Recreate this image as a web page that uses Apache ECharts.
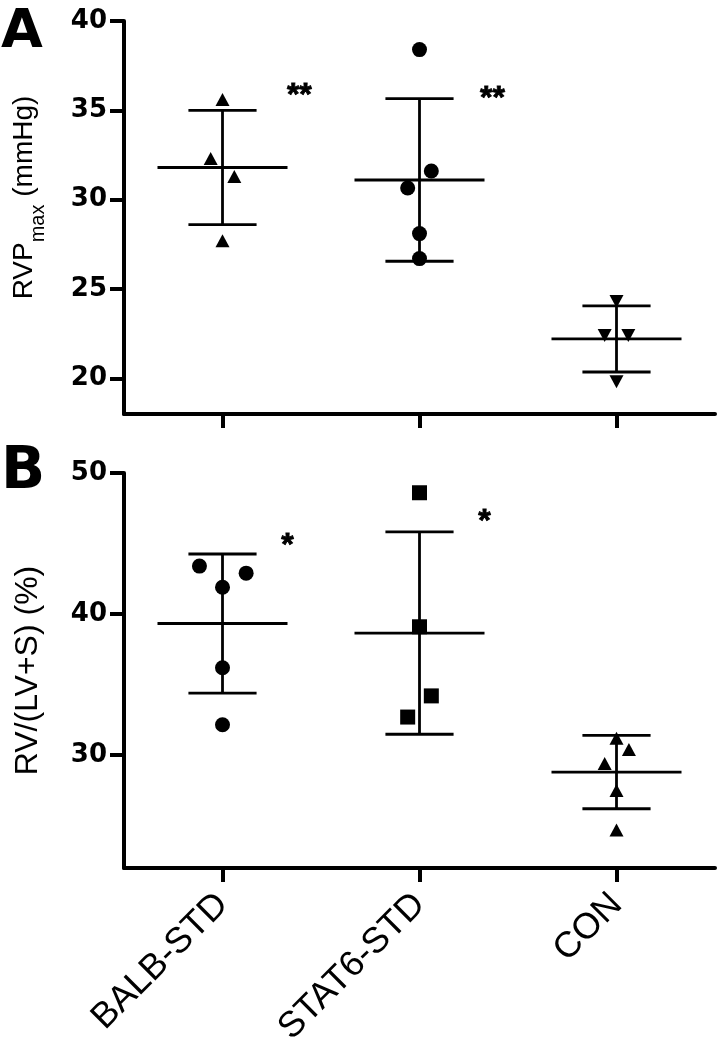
<!DOCTYPE html>
<html><head><meta charset="utf-8">
<script src="https://cdn.jsdelivr.net/npm/echarts@6/dist/echarts.min.js"></script>
<style>html,body{margin:0;padding:0;background:#fff}#c{width:719px;height:1043px}</style>
</head><body><div id="c"></div>
<script>
// ---------- data ----------
const categories = ['BALB-STD', 'STAT6-STD', 'CON'];

// Panel A: RVPmax (mmHg)
const rvpBALB  = [35.6, 32.3, 31.3, 27.7];
const rvpSTAT6 = [38.4, 31.6, 30.65, 28.1, 26.7];
const rvpCON   = [24.3, 22.4, 22.4, 19.8];
const rvpMean  = [31.8, 31.1, 22.2];
const rvpSD    = [3.2, 4.55, 1.85];
const rvpTicks = [20, 25, 30, 35, 40];
const rvpSig   = ['**', '**', ''];
const rvpSigY  = [36.2, 36.0, 0];

// Panel B: RV/(LV+S) (%)
const rvBALB  = [43.4, 42.9, 41.9, 36.2, 32.15];
const rvSTAT6 = [48.6, 39.1, 34.2, 32.7];
const rvCON   = [31.2, 30.4, 29.4, 27.5, 24.7];
const rvMean  = [39.33, 38.65, 28.8];
const rvSD    = [4.93, 7.17, 2.6];
const rvTicks = [30, 40, 50];
const rvSig   = ['*', '*', ''];
const rvSigY  = [45.3, 47.0, 0];

// horizontal scatter offsets of individual points (category units), as in the figure
const jitA = [[0, -0.06, 0.06, 0], [0, 0.06, -0.06, 0, 0], [0, -0.06, 0.06, 0]];
const jitB = [[-0.117, 0.12, 0, 0, 0], [0, 0, 0.06, -0.06], [0, 0.063, -0.06, 0, 0]];

// ---------- chart ----------
const BLACK = '#000';
const chart = echarts.init(document.getElementById('c'), null, {renderer: 'canvas'});

function pts(vals, g, jit) { return vals.map((v, i) => [g + jit[i], v]); }

function xAxis(gridIndex, showLabels) {
  return {
    type: 'value', gridIndex, min: -0.5, max: 2.5,
    splitLine: {show: false},
    axisLine: {show: true, onZero: false, lineStyle: {color: BLACK, width: 4}},
    axisTick: {show: true, customValues: [0, 1, 2], length: 14, lineStyle: {color: BLACK, width: 4}},
    axisLabel: showLabels ? {
      show: true, customValues: [0, 1, 2], formatter: v => categories[Math.round(v)],
      rotate: 45, margin: 31, color: BLACK, fontSize: 36, fontFamily: 'Liberation Sans'
    } : {show: false}
  };
}
function yAxis(gridIndex, min, max, ticks, name, nameStyle, gap) {
  return {
    type: 'value', gridIndex, min, max,
    splitLine: {show: false},
    axisLine: {show: true, onZero: false, lineStyle: {color: BLACK, width: 4}},
    axisTick: {show: true, customValues: ticks, length: 14, lineStyle: {color: BLACK, width: 4}},
    axisLabel: {show: true, customValues: ticks, margin: 17, color: BLACK, fontSize: 26,
      fontWeight: 'bold', fontFamily: 'DejaVu Sans'},
    name, nameLocation: 'middle', nameGap: gap, nameRotate: 90,
    nameTextStyle: nameStyle
  };
}

function errBars(means, sds, xi, yi) {
  return {
    type: 'custom', xAxisIndex: xi, yAxisIndex: yi, silent: true, z: 3,
    data: means.map((m, i) => [i, m, sds[i]]),
    encode: {x: 0, y: 1},
    renderItem: (params, api) => {
      const g = api.value(0), m = api.value(1), s = api.value(2);
      const st = {stroke: BLACK, lineWidth: 2.8};
      const L = (a, b) => ({type: 'line', shape: {x1: a[0], y1: a[1], x2: b[0], y2: b[1]}, style: st});
      return {type: 'group', children: [
        L(api.coord([g - 0.33, m]), api.coord([g + 0.33, m])),
        L(api.coord([g, m - s]), api.coord([g, m + s])),
        L(api.coord([g - 0.173, m + s]), api.coord([g + 0.173, m + s])),
        L(api.coord([g - 0.173, m - s]), api.coord([g + 0.173, m - s]))
      ]};
    }
  };
}
function scat(data, xi, yi, symbol, size, rot) {
  return {type: 'scatter', xAxisIndex: xi, yAxisIndex: yi, data, symbol, symbolSize: size,
    symbolRotate: rot || 0, itemStyle: {color: BLACK, opacity: 1}, z: 4, silent: true};
}
function sig(labels, ys, offs, xi, yi, dy) {
  const data = [];
  labels.forEach((t, i) => { if (t) data.push([i + offs[i], ys[i], t]); });
  return {type: 'scatter', xAxisIndex: xi, yAxisIndex: yi, data, symbolSize: 1, silent: true,
    itemStyle: {color: 'rgba(0,0,0,0)'},
    label: {show: true, position: 'inside', formatter: p => p.value[2], color: BLACK, opacity: 1,
      textBorderColor: BLACK, textBorderWidth: 0.8,
      fontSize: 32, fontWeight: 'bold', fontFamily: 'Liberation Sans', offset: [0, dy]}};
}

const titleA = '{a|RVP}{b|max}{a| (mmHg)}';
const titleAStyle = {color: BLACK, padding: [0, 0, 0, 40],
  rich: {
    a: {fontSize: 28, fontFamily: 'Liberation Sans', color: BLACK, lineHeight: 28, verticalAlign: 'top'},
    b: {fontSize: 20, fontFamily: 'Liberation Sans', color: BLACK, lineHeight: 20, verticalAlign: 'top', padding: [18, 0, 0, 0]}
  }};
const titleBStyle = {color: BLACK, fontSize: 32, fontFamily: 'Liberation Sans'};

const option = {
  animation: false,
  backgroundColor: '#fff',
  grid: [
    {left: 124, right: 4, top: 21, height: 393, containLabel: false, outerBoundsMode: 'none'},
    {left: 124, right: 4, top: 473, height: 395, containLabel: false, outerBoundsMode: 'none'}
  ],
  xAxis: [xAxis(0, false), xAxis(1, true)],
  yAxis: [
    yAxis(0, 18, 40, rvpTicks, titleA, titleAStyle, 86),
    yAxis(1, 22, 50, rvTicks, 'RV/(LV+S) (%)', titleBStyle, 80)
  ],
  graphic: [
    {type: 'text', left: 1, top: 6, style: {text: 'A', fontSize: 54, fontWeight: 'bold', fontFamily: 'DejaVu Sans', fill: BLACK}},
    {type: 'text', left: 1, top: 444, style: {text: 'B', fontSize: 58, fontWeight: 'bold', fontFamily: 'DejaVu Sans', fill: BLACK}}
  ],
  series: [
    errBars(rvpMean, rvpSD, 0, 0),
    scat(pts(rvpBALB, 0, jitA[0]), 0, 0, 'triangle', [14, 13]),
    scat(pts(rvpSTAT6, 1, jitA[1]), 0, 0, 'circle', 15),
    scat(pts(rvpCON, 2, jitA[2]), 0, 0, 'triangle', [14, 13], 180),
    sig(rvpSig, rvpSigY, [0.39, 0.37, 0], 0, 0, 7),

    errBars(rvMean, rvSD, 1, 1),
    scat(pts(rvBALB, 0, jitB[0]), 1, 1, 'circle', 15),
    scat(pts(rvSTAT6, 1, jitB[1]), 1, 1, 'rect', 15),
    scat(pts(rvCON, 2, jitB[2]), 1, 1, 'triangle', [14, 13]),
    sig(rvSig, rvSigY, [0.33, 0.33, 0], 1, 1, 7)
  ]
};
chart.setOption(option);
</script>
</body></html>
